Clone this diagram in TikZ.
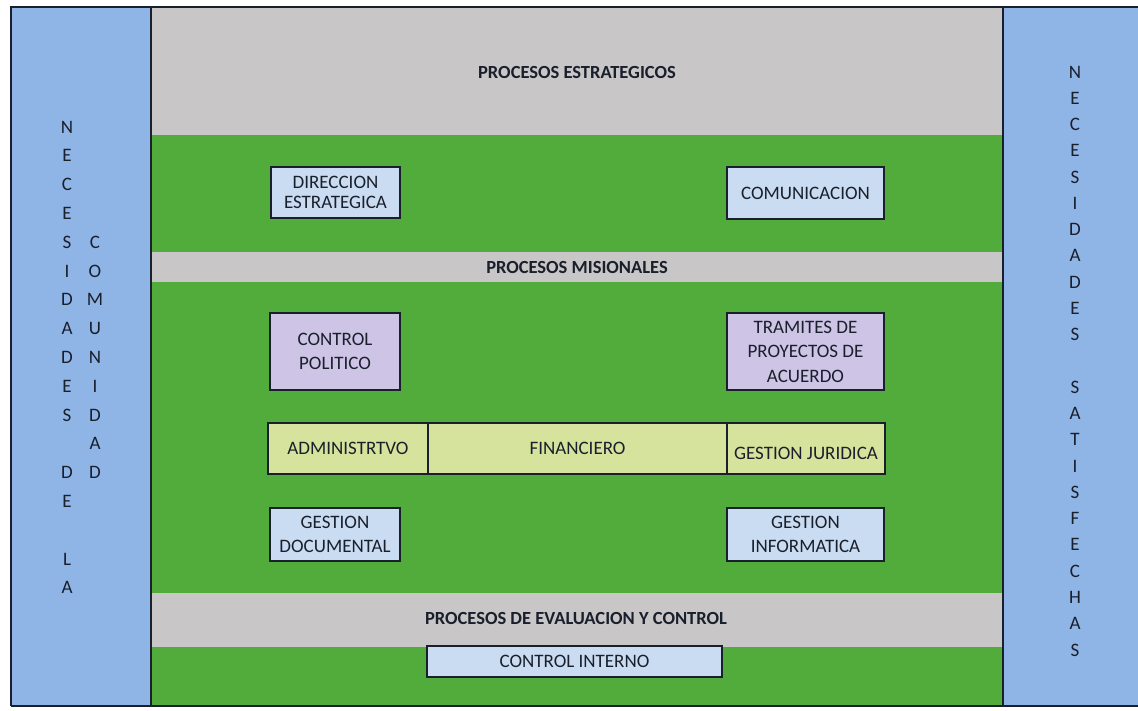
\documentclass[tikz,border=0pt]{standalone}
\usepackage{fontspec}
\setmainfont{Carlito}
\definecolor{panelblue}{HTML}{8FB4E6}
\definecolor{bandgray}{HTML}{C8C6C7}
\definecolor{fieldgreen}{HTML}{52AC3C}
\definecolor{boxblue}{HTML}{CADCF2}
\definecolor{boxlav}{HTML}{CDC4E6}
\definecolor{boxolive}{HTML}{D5E39C}
\definecolor{inkc}{HTML}{1A1F2C}
\begin{document}
\begin{tikzpicture}[x=1pt,y=-1pt,
  procbox/.style={draw=inkc,line width=1.6pt,inner sep=1pt,align=center,text=inkc,font=\fontsize{19}{24.5}\selectfont},
  heading/.style={text=inkc,font=\fontsize{18.5}{22}\selectfont\bfseries},
  letter/.style={text=inkc,font=\fontsize{19}{22}\selectfont,inner sep=0pt}]
\useasboundingbox (0,0) rectangle (1138,710);
\fill[white] (0,0) rectangle (1138,710);
% side panels
\fill[panelblue] (11,7) rectangle (151,706);
\fill[panelblue] (1003,7) rectangle (1138,706);
% central bands
\fill[bandgray] (151,7) rectangle (1003,135);
\fill[fieldgreen] (151,135) rectangle (1003,252);
\fill[bandgray] (151,252) rectangle (1003,282);
\fill[fieldgreen] (151,282) rectangle (1003,593);
\fill[bandgray] (151,593) rectangle (1003,647);
\fill[fieldgreen] (151,647) rectangle (1003,706);
% frame lines
\draw[inkc,line width=1.8pt] (11,706) -- (11,7) -- (1138,7);
\draw[inkc,line width=1.8pt] (11,706) -- (1138,706);
\draw[inkc,line width=1.8pt] (151,7) -- (151,706);
\draw[inkc,line width=1.8pt] (1003,7) -- (1003,706);
% headings
\node[heading] (hest) at (577,72) {PROCESOS ESTRATEGICOS};
\node[heading] (hmis) at (577,267) {PROCESOS MISIONALES};
\node[heading] (heva) at (576,618) {PROCESOS DE EVALUACION Y CONTROL};
% boxes
\node[procbox,fill=boxblue,minimum width=129pt,minimum height=51pt] (dir) at (335.5,192.5) {DIRECCION\\[-4pt]ESTRATEGICA};
\node[procbox,fill=boxblue,minimum width=157pt,minimum height=52pt] (com) at (805.5,193) {COMUNICACION};
\node[procbox,fill=boxlav,minimum width=130pt,minimum height=77pt] (cp) at (335,351.5) {CONTROL\\POLITICO};
\node[procbox,fill=boxlav,minimum width=157pt,minimum height=77pt] (tram) at (805.5,351.5) {TRAMITES DE\\PROYECTOS DE\\ACUERDO};
\node[procbox,fill=boxolive,minimum width=160pt,minimum height=51pt] (adm) at (348,448.5) {ADMINISTRTVO};
\node[procbox,fill=boxolive,minimum width=299pt,minimum height=51pt] (fin) at (577.5,448.5) {FINANCIERO};
\node[procbox,fill=boxolive,minimum width=158pt,minimum height=51pt,text height=22pt,text depth=-6pt] (jur) at (806,448.5) {GESTION JURIDICA};
\node[procbox,fill=boxblue,minimum width=130pt,minimum height=53pt] (gd) at (335,534.5) {GESTION\\DOCUMENTAL};
\node[procbox,fill=boxblue,minimum width=157pt,minimum height=53pt] (gi) at (805.5,534.5) {GESTION\\INFORMATICA};
\node[procbox,fill=boxblue,minimum width=295pt,minimum height=31pt] (ci) at (574.5,661.5) {CONTROL INTERNO};
% left column 1: NECESIDADES DE LA
\foreach \c [count=\i from 0] in {N,E,C,E,S,I,D,A,D,E,S,{},D,E,{},L,A}
  \node[letter] (la\i) at (67,127+28.8*\i) {\c};
% left column 2: COMUNIDAD
\foreach \c [count=\i from 4] in {C,O,M,U,N,I,D,A,D}
  \node[letter] (lb\i) at (95,127+28.8*\i) {\c};
% right column: NECESIDADES SATISFECHAS
\foreach \c [count=\i from 0] in {N,E,C,E,S,I,D,A,D,E,S,{},S,A,T,I,S,F,E,C,H,A,S}
  \node[letter] (r\i) at (1075,72+26.27*\i) {\c};
\end{tikzpicture}
\end{document}
